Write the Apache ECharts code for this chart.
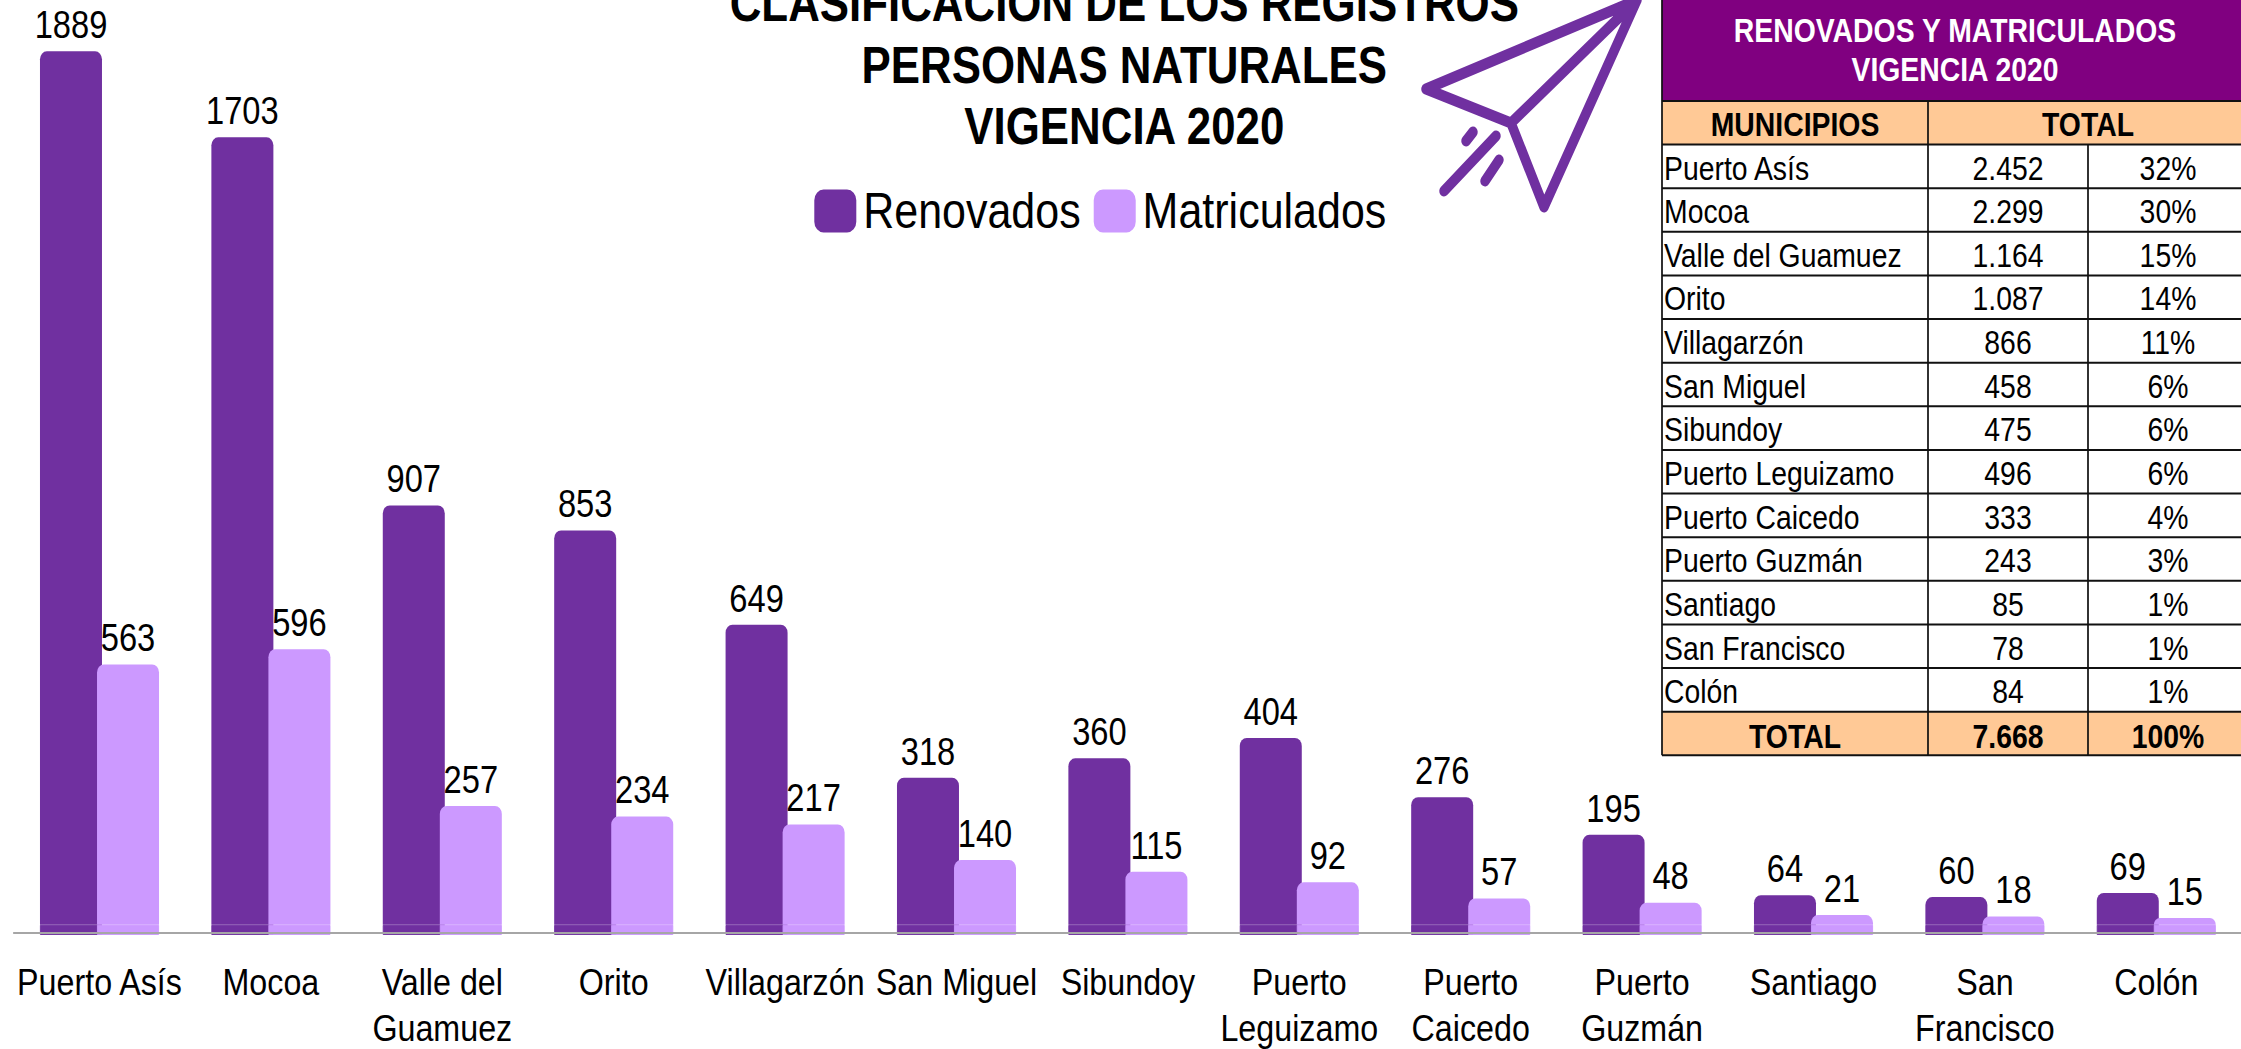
<!DOCTYPE html>
<html lang="es">
<head>
<meta charset="utf-8">
<title>Clasificación de los registros</title>
<style>
html,body{margin:0;padding:0;background:#fff;overflow:hidden;width:2241px;height:1049px}
#chart{height:1049px;transform-origin:0 0}
</style>
<script src="https://cdn.jsdelivr.net/npm/echarts@6/dist/echarts.min.js"></script>
</head>
<body>
<div id="chart"></div>
<script>
const categories = ['Puerto Asís','Mocoa','Valle del\nGuamuez','Orito','Villagarzón','San Miguel','Sibundoy','Puerto\nLeguizamo','Puerto\nCaicedo','Puerto\nGuzmán','Santiago','San\nFrancisco','Colón'];
const renovados = [1889,1703,907,853,649,318,360,404,276,195,64,60,69];
const matriculados = [563,596,257,234,217,140,115,92,57,48,21,18,15];
const tableMunicipios = ['Puerto Asís','Mocoa','Valle del Guamuez','Orito','Villagarzón','San Miguel','Sibundoy','Puerto Leguizamo','Puerto Caicedo','Puerto Guzmán','Santiago','San Francisco','Colón'];
const tableTotales = ['2.452','2.299','1.164','1.087','866','458','475','496','333','243','85','78','84'];
const tablePorcentajes = ['32%','30%','15%','14%','11%','6%','6%','6%','4%','3%','1%','1%','1%'];
const titleLines = ['CLASIFICACIÓN DE LOS REGISTROS','PERSONAS NATURALES','VIGENCIA 2020'];
const tableTitleLines = ['RENOVADOS Y MATRICULADOS','VIGENCIA 2020'];

// The reference's type is horizontally condensed: the whole chart is laid out
// wider and squeezed by this factor, so X() converts picture pixels to layout pixels.
const SQUEEZE = 0.86;
const X = px => px / SQUEEZE;
const W = 2241;
const el = document.getElementById('chart');
el.style.width = X(W) + 'px';
el.style.transform = 'scaleX(' + SQUEEZE + ')';

const FONT = '"Liberation Sans",Arial,sans-serif';
const DARK = '#7030a0', LIGHT = '#cc99ff', PURPLE = '#800080', PEACH = '#ffc996';
const AXIS_MIN = -22, AXIS_MAX = 2000;
const pedestal = categories.map(() => AXIS_MIN);

// ---------- table ----------
const T = {x0:1662, x1:1928, x2:2088, head:101, first:144.5, rowH:43.63};
const g = [];
function rect(x,y,w,h,fill){g.push({type:'rect',silent:true,z:10,shape:{x:X(x),y,width:X(w),height:h},style:{fill}});}
function line(x1,y1,x2,y2){g.push({type:'line',silent:true,z:12,shape:{x1:X(x1),y1,x2:X(x2),y2},style:{stroke:'#111',lineWidth:2}});}
function text(t,x,y,opt){g.push({type:'text',silent:true,z:13,x:X(x),y,style:Object.assign({text:t,fill:'#000',font:'33px '+FONT,align:'center',verticalAlign:'middle'},opt||{})});}
const rowY = i => T.first + i*T.rowH;
const tableBottom = rowY(14);
rect(T.x0,-5,W-T.x0+10,T.head+5,PURPLE);
rect(T.x0,T.head,W-T.x0+10,T.first-T.head,PEACH);
rect(T.x0,rowY(13),W-T.x0+10,T.rowH,PEACH);
const BOLD = 'bold 33px '+FONT;
text(tableTitleLines[0],1955,31,{font:BOLD,fill:'#fff'});
text(tableTitleLines[1],1955,70,{font:BOLD,fill:'#fff'});
text('MUNICIPIOS',1795,125,{font:BOLD});
text('TOTAL',2088,125,{font:BOLD});
tableMunicipios.forEach((m,i)=>{
  const cy = rowY(i)+T.rowH/2+2;
  text(m,T.x0+2,cy,{align:'left'});
  text(tableTotales[i],2008,cy);
  text(tablePorcentajes[i],2168,cy);
});
const totalY = rowY(13)+T.rowH/2+3;
text('TOTAL',1795,totalY,{font:BOLD});
text('7.668',2008,totalY,{font:BOLD});
text('100%',2168,totalY,{font:BOLD});
for(let i=-1;i<=14;i++){const y=i<0?T.head:rowY(i);line(T.x0,y,W,y);}
line(T.x0,0,T.x0,tableBottom);
line(T.x1,T.head,T.x1,tableBottom);
line(T.x2,T.first,T.x2,tableBottom);

// ---------- paper plane ----------
function stroke(pts){g.push({type:'polyline',silent:true,z:9,shape:{points:pts.map(p=>[X(p[0]),p[1]])},style:{stroke:DARK,fill:null,lineWidth:11,lineCap:'round',lineJoin:'round'}});}
stroke([[1511,123],[1426,89],[1637,0],[1544,207],[1511,123],[1637,0]]);
stroke([[1444,191],[1496,136]]);
stroke([[1473,132],[1466,141]]);
stroke([[1499,160],[1485,181]]);

// ---------- bars ----------
const BAR_W = X(62), GAP = '-8%';
const labelStyle = {show:true,position:'top',distance:7,color:'#000',fontFamily:FONT,fontSize:38};
function barSeries(name,data,color,stack){
  return {name,type:'bar',stack,data,barWidth:BAR_W,barGap:GAP,
    itemStyle:{color,borderRadius:[8,8,0,0]},label:labelStyle,emphasis:{disabled:true}};
}
function baseSeries(stack,color){
  return {name:stack+' base',type:'bar',stack,data:pedestal,barWidth:BAR_W,barGap:GAP,silent:true,
    itemStyle:{color,borderColor:color,borderWidth:1},label:{show:false},emphasis:{disabled:true},tooltip:{show:false}};
}
const option = {
  animation:false,
  backgroundColor:'#fff',
  title:{text:titleLines.join('\n'),left:X(1120),top:-32,textAlign:'center',
    textStyle:{fontFamily:FONT,fontSize:51,fontWeight:'bold',color:'#000',lineHeight:61.5}},
  legend:{data:['Renovados','Matriculados'],left:X(810),top:181,itemWidth:X(42),itemHeight:43,itemGap:X(13),
    icon:'roundRect',selectedMode:false,
    textStyle:{fontFamily:FONT,fontSize:50,color:'#000',padding:[0,0,0,3]}},
  grid:{left:X(13.8),top:0,width:X(2228.2),height:935,containLabel:false,outerBoundsMode:'none'},
  xAxis:{type:'category',data:categories,offset:-2.3,z:5,
    axisLine:{onZero:false,lineStyle:{color:'#a6a6a6',width:2}},axisTick:{show:false},
    axisLabel:{interval:0,margin:26,color:'#000',fontFamily:FONT,fontSize:37.5,lineHeight:46}},
  yAxis:{type:'value',min:AXIS_MIN,max:AXIS_MAX,show:false,splitLine:{show:false}},
  series:[
    barSeries('Renovados',renovados,DARK,'ren'),
    baseSeries('ren',DARK),
    barSeries('Matriculados',matriculados,LIGHT,'mat'),
    baseSeries('mat',LIGHT)
  ],
  graphic:{elements:g}
};
echarts.init(el,null,{renderer:'svg'}).setOption(option);
</script>
</body>
</html>
